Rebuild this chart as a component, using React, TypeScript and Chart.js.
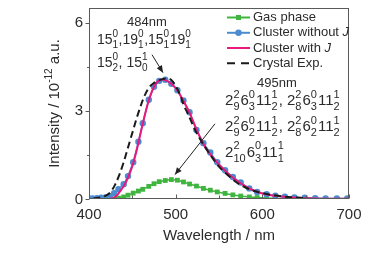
import { useEffect, useRef } from "react";
import { Chart, registerables } from "chart.js";

Chart.register(...registerables);

// ---------- data ----------
const seriesNames = ["Gas phase", "Cluster without J", "Cluster with J", "Crystal Exp."];

const greenX = [429, 434, 440, 445, 451, 457, 462, 469, 475, 481, 488, 495, 502, 509, 516, 524, 532, 540, 548, 557, 566, 575, 585, 594, 605, 615, 626, 637];
const greenY = [0.0, 0.03, 0.07, 0.13, 0.2, 0.27, 0.33, 0.43, 0.52, 0.59, 0.63, 0.66, 0.64, 0.58, 0.51, 0.44, 0.36, 0.3, 0.24, 0.19, 0.14, 0.1, 0.07, 0.05, 0.03, 0.02, 0.01, 0.01];

const blueX = [400, 404, 409, 414, 419, 424, 429, 434, 440, 445, 451, 457, 462, 469, 475, 481, 488, 495, 502, 509, 516, 524, 532, 540, 548, 557, 566, 575, 585, 594, 605, 615, 626, 637, 649, 661, 673, 686, 698];
const blueY = [0.02, 0.02, 0.03, 0.04, 0.05, 0.09, 0.2, 0.33, 0.5, 0.78, 1.25, 1.95, 2.58, 3.38, 3.82, 4.02, 4.06, 3.92, 3.7, 3.35, 2.95, 2.35, 1.9, 1.58, 1.25, 0.98, 0.75, 0.56, 0.36, 0.24, 0.16, 0.11, 0.08, 0.05, 0.04, 0.03, 0.02, 0.02, 0.02];

const pinkX = [423, 428, 432, 436, 440, 445, 450, 455, 460, 465, 470, 475, 480, 485, 490, 495, 500, 505, 510, 515, 520, 525, 530, 535, 540, 545, 550, 555, 560, 570, 580, 590, 600, 610, 620, 630, 640, 650, 660, 680, 700];
const pinkY = [0, 0.03, 0.12, 0.27, 0.43, 0.73, 1.12, 1.65, 2.3, 2.93, 3.45, 3.82, 4.02, 4.07, 4.02, 3.92, 3.77, 3.55, 3.28, 3.0, 2.66, 2.3, 1.98, 1.72, 1.52, 1.34, 1.17, 1.02, 0.88, 0.64, 0.44, 0.29, 0.19, 0.13, 0.09, 0.06, 0.04, 0.03, 0.02, 0.01, 0.01];

const expX = [405, 410, 415, 420, 425, 430, 435, 440, 445, 450, 455, 460, 465, 470, 475, 480, 485, 490, 495, 500, 505, 510, 515, 520, 525, 530, 540, 550, 560, 570, 580, 590, 600, 610, 620, 630, 640, 650];
const expY = [0.02, 0.04, 0.07, 0.12, 0.24, 0.48, 0.82, 1.25, 1.75, 2.25, 2.75, 3.2, 3.57, 3.82, 3.95, 4.03, 4.08, 4.1, 4.05, 3.85, 3.55, 3.15, 2.85, 2.5, 2.2, 1.95, 1.5, 1.1, 0.82, 0.57, 0.4, 0.28, 0.2, 0.14, 0.1, 0.07, 0.05, 0.03];

const xMajorTicks = [400, 500, 600, 700];
const xMinorTicks = [450, 550, 650];
const yMajorTicks = [0, 3, 6];
const yMinorTicks = [1.5, 4.5];

const xTitle = "Wavelength / nm";
const yTitleParts = ["Intensity / 10", "-12", " a.u."];

// annotation texts: [base, sub, sup]
const peak1Label = "484nm";
const peak1Line1 = [["15", "1", "0"], [",19", "1", "0"], [",15", "1", "0"], ["19", "1", "0"]];
const peak1Line2 = [["15", "2", "0"], [", 15", "0", "1"]];
const peak2Label = "495nm";
const peak2Line1 = [["2", "9", "2"], ["6", "3", "0"], ["11", "2", "1"], [", 2", "8", "2"], ["6", "3", "0"], ["11", "2", "1"]];
const peak2Line2 = [["2", "9", "2"], ["6", "2", "0"], ["11", "2", "1"], [", 2", "8", "2"], ["6", "2", "0"], ["11", "2", "1"]];
const peak2Line3 = [["2", "10", "2"], ["6", "3", "0"], ["11", "1", "1"]];

// ---------- styles ----------
const FONT = '"Liberation Sans", Arial, Helvetica, sans-serif';
const TEXT = "#2b2b2b";
const GREEN = "#3fb53f";
const BLUE = "#4d8bd0";
const PINK = "#e8197c";
const BLACK = "#1a1a1a";
const FRAME = "#5a5a5a";

function drawRich(ctx: CanvasRenderingContext2D, x: number, y: number, parts: string[][], base: number, small: number, gap: number) {
  ctx.textBaseline = "middle";
  ctx.textAlign = "left";
  let cx = x;
  for (const [b, sub, sup] of parts) {
    ctx.font = `${base}px ${FONT}`;
    ctx.fillText(b, cx, y);
    cx += ctx.measureText(b).width;
    ctx.font = `${small}px ${FONT}`;
    ctx.fillText(sup, cx, y - base * 0.42);
    ctx.fillText(sub, cx, y + base * 0.4);
    cx += Math.max(ctx.measureText(sup).width, ctx.measureText(sub).width) + gap;
  }
}

function arrow(ctx: CanvasRenderingContext2D, x1: number, y1: number, x2: number, y2: number) {
  ctx.beginPath();
  ctx.moveTo(x1, y1);
  ctx.lineTo(x2, y2);
  ctx.stroke();
  const ang = Math.atan2(y2 - y1, x2 - x1);
  const L = 7, W = 3;
  ctx.beginPath();
  ctx.moveTo(x2, y2);
  ctx.lineTo(x2 - L * Math.cos(ang) + W * Math.sin(ang), y2 - L * Math.sin(ang) - W * Math.cos(ang));
  ctx.lineTo(x2 - L * Math.cos(ang) - W * Math.sin(ang), y2 - L * Math.sin(ang) + W * Math.cos(ang));
  ctx.closePath();
  ctx.fill();
}

const decor = {
  id: "decor",
  afterDatasetsDraw(chart: any) {
    const { ctx, chartArea: a, scales } = chart;
    const xs = scales.x, ys = scales.y;
    const X = (v: number) => xs.getPixelForValue(v);
    const Y = (v: number) => ys.getPixelForValue(v);
    ctx.save();
    // frame
    ctx.strokeStyle = FRAME;
    ctx.lineWidth = 1;
    const l = Math.round(a.left) + 0.5, t = Math.round(a.top) + 0.5;
    const r = Math.round(a.right) - 0.5, b = Math.round(a.bottom) - 0.5;
    ctx.strokeRect(l, t, r - l, b - t);
    // tick marks
    ctx.beginPath();
    for (const v of yMajorTicks) { const p = Math.round(Y(v)) + 0.5; ctx.moveTo(l - 4, p); ctx.lineTo(l, p); }
    for (const v of yMinorTicks) { const p = Math.round(Y(v)) + 0.5; ctx.moveTo(l - 2.5, p); ctx.lineTo(l, p); }
    for (const v of xMajorTicks) { const p = Math.round(X(v)) + 0.5; ctx.moveTo(p, b); ctx.lineTo(p, b - 4); }
    for (const v of xMinorTicks) { const p = Math.round(X(v)) + 0.5; ctx.moveTo(p, b); ctx.lineTo(p, b - 3); }
    ctx.stroke();

    // tick labels
    ctx.fillStyle = TEXT;
    ctx.font = `15px ${FONT}`;
    ctx.textBaseline = "middle";
    ctx.textAlign = "right";
    for (const v of yMajorTicks) ctx.fillText(String(v), a.left - 6, Y(v) + 0.5);
    ctx.textAlign = "center";
    for (const v of xMajorTicks) ctx.fillText(String(v), X(v), a.bottom + 16);

    // axis titles
    ctx.font = `15px ${FONT}`;
    ctx.textAlign = "center";
    ctx.fillText(xTitle, (a.left + a.right) / 2, a.bottom + 37);

    ctx.save();
    ctx.translate(a.left - 34, (a.top + a.bottom) / 2);
    ctx.rotate(-Math.PI / 2);
    ctx.textAlign = "left";
    ctx.font = `15px ${FONT}`;
    const w0 = ctx.measureText(yTitleParts[0]).width;
    const w2 = ctx.measureText(yTitleParts[2]).width;
    ctx.font = `10px ${FONT}`;
    const w1 = ctx.measureText(yTitleParts[1]).width;
    let cx = -(w0 + w1 + w2) / 2;
    ctx.font = `15px ${FONT}`;
    ctx.fillText(yTitleParts[0], cx, 0);
    cx += w0;
    ctx.font = `10px ${FONT}`;
    ctx.fillText(yTitleParts[1], cx, -6);
    cx += w1;
    ctx.font = `15px ${FONT}`;
    ctx.fillText(yTitleParts[2], cx, 0);
    ctx.restore();

    // legend
    const lx0 = a.right - 122, lx1 = a.right - 99, tx = a.right - 96;
    const rows = [a.top + 9.5, a.top + 24.8, a.top + 40, a.top + 55.2];
    const styles = [GREEN, BLUE, PINK, BLACK];
    ctx.textAlign = "left";
    ctx.textBaseline = "middle";
    seriesNames.forEach((name, i) => {
      const yy = rows[i];
      ctx.strokeStyle = styles[i];
      ctx.fillStyle = styles[i];
      ctx.lineWidth = 2;
      ctx.setLineDash(i === 3 ? [8, 6] : []);
      ctx.beginPath();
      ctx.moveTo(lx0, yy);
      ctx.lineTo(lx1, yy);
      ctx.stroke();
      ctx.setLineDash([]);
      const mx = (lx0 + lx1) / 2;
      if (i === 0) ctx.fillRect(mx - 2.5, yy - 2.5, 5, 5);
      if (i === 1) { ctx.beginPath(); ctx.arc(mx, yy, 3.2, 0, Math.PI * 2); ctx.fill(); }
      ctx.fillStyle = TEXT;
      if (name.endsWith(" J")) {
        const head = name.slice(0, -1);
        ctx.font = `13px ${FONT}`;
        ctx.fillText(head, tx, yy);
        const hw = ctx.measureText(head).width;
        ctx.font = `italic 13px ${FONT}`;
        ctx.fillText("J", tx + hw, yy);
      } else {
        ctx.font = `13px ${FONT}`;
        ctx.fillText(name, tx, yy);
      }
    });

    // annotations
    ctx.fillStyle = TEXT;
    ctx.strokeStyle = "#222";
    ctx.lineWidth = 1;
    ctx.font = `13px ${FONT}`;
    ctx.textAlign = "center";
    ctx.textBaseline = "middle";
    ctx.fillText(peak1Label, X(466.9), Y(6.01));
    drawRich(ctx, X(409.2), Y(5.42), peak1Line1, 14, 10, 0.5);
    drawRich(ctx, X(409.2), Y(4.63), peak1Line2, 14, 10, 0.5);
    ctx.font = `13px ${FONT}`;
    ctx.textAlign = "center";
    ctx.fillText(peak2Label, X(616.9), Y(3.95));
    drawRich(ctx, X(557), Y(3.33), peak2Line1, 15, 11, 1);
    drawRich(ctx, X(557), Y(2.44), peak2Line2, 15, 11, 1);
    drawRich(ctx, X(557), Y(1.58), peak2Line3, 15, 11, 1);
    ctx.fillStyle = "#222";
    arrow(ctx, X(472.7), Y(4.91), X(485.4), Y(4.3));
    arrow(ctx, X(545.4), Y(2.56), X(499.2), Y(0.83));
    ctx.restore();
  },
};

export default function App() {
  const ref = useRef<HTMLCanvasElement | null>(null);
  useEffect(() => {
    if (!ref.current) return;
    const chart = new Chart(ref.current, {
      type: "line",
      data: {
        datasets: [
          {
            label: seriesNames[0],
            data: greenX.map((x, i) => ({ x, y: greenY[i] })),
            borderColor: GREEN,
            backgroundColor: GREEN,
            borderWidth: 1.5,
            pointStyle: "rect",
            pointRadius: 3.4,
            pointBorderWidth: 0,
            order: 4,
          },
          {
            label: seriesNames[1],
            data: blueX.map((x, i) => ({ x, y: blueY[i] })),
            borderColor: BLUE,
            backgroundColor: BLUE,
            borderWidth: 1.5,
            pointStyle: "circle",
            pointRadius: 3.2,
            pointBorderWidth: 0,
            order: 3,
          },
          {
            label: seriesNames[2],
            data: pinkX.map((x, i) => ({ x, y: pinkY[i] })),
            borderColor: PINK,
            borderWidth: 2,
            pointRadius: 0,
            cubicInterpolationMode: "monotone",
            order: 2,
          },
          {
            label: seriesNames[3],
            data: expX.map((x, i) => ({ x, y: expY[i] })),
            borderColor: BLACK,
            borderWidth: 2,
            borderDash: [7, 4],
            pointRadius: 0,
            cubicInterpolationMode: "monotone",
            order: 1,
          },
        ] as any,
      },
      options: {
        animation: false,
        responsive: false,
        maintainAspectRatio: false,
        layout: { padding: { top: 8, right: 43, left: 0, bottom: 0 } },
        plugins: { legend: { display: false }, tooltip: { enabled: false } },
        scales: {
          x: {
            type: "linear",
            min: 400,
            max: 700,
            grid: { display: false, drawTicks: false },
            border: { display: false },
            ticks: { display: false, stepSize: 50 },
            afterFit: (s: any) => { s.height = 54; },
          },
          y: {
            type: "linear",
            min: 0,
            max: 6.5,
            grid: { display: false, drawTicks: false },
            border: { display: false },
            ticks: { display: false, stepSize: 1.5 },
            afterFit: (s: any) => { s.width = 89; },
          },
        },
      } as any,
      plugins: [decor],
    });
    return () => chart.destroy();
  }, []);
  return (
    <div style={{ position: "absolute", left: 0, top: 0, width: 392, height: 253, background: "#fff" }}>
      <canvas ref={ref} width={392} height={253} style={{ display: "block", width: 392, height: 253 }} />
    </div>
  );
}
